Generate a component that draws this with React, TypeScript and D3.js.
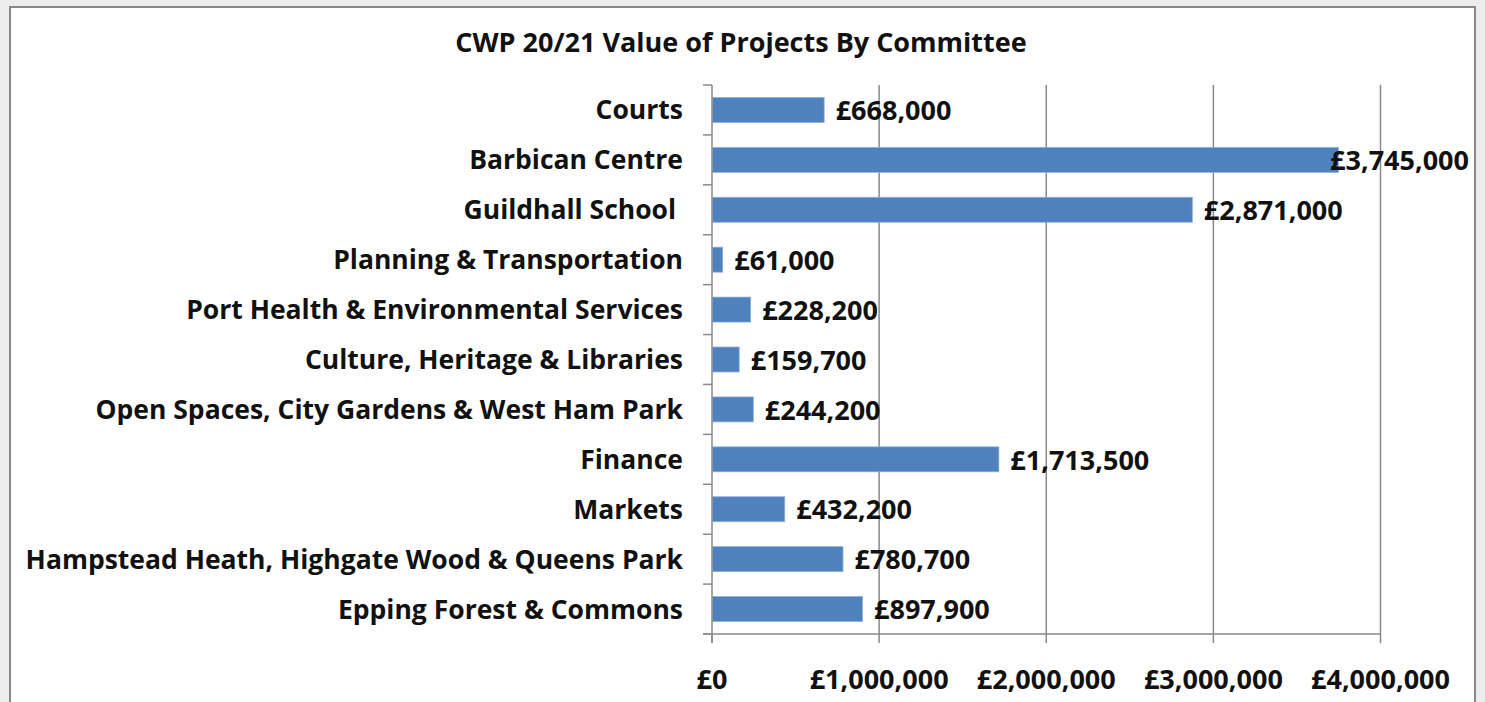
import React, { useRef, useEffect } from 'react';
import * as d3 from 'd3';

const committees = [
  'Courts',
  'Barbican Centre',
  'Guildhall School ',
  'Planning & Transportation',
  'Port Health & Environmental Services',
  'Culture, Heritage & Libraries',
  'Open Spaces, City Gardens & West Ham Park',
  'Finance',
  'Markets',
  'Hampstead Heath, Highgate Wood & Queens Park',
  'Epping Forest & Commons',
];
const values = [668000, 3745000, 2871000, 61000, 228200, 159700, 244200, 1713500, 432200, 780700, 897900];
const xTicks = [0, 1000000, 2000000, 3000000, 4000000];

const W = 1485;
const H = 702;

export default function App() {
  const svgRef = useRef<SVGSVGElement>(null);

  useEffect(() => {
    const svg = d3.select(svgRef.current);
    svg.selectAll('*').remove();

    const font = '"Open Sans", sans-serif';
    const margin = { top: 85, left: 712, right: 104.5, bottom: 68 };
    const innerW = W - margin.left - margin.right;
    const innerH = H - margin.top - margin.bottom;
    const labelLimit = 1469;

    // background and panel
    svg.append('rect').attr('width', W).attr('height', H).attr('fill', '#ededed');
    svg.append('rect')
      .attr('x', 10).attr('y', 7)
      .attr('width', 1465).attr('height', H + 10)
      .attr('fill', '#fff')
      .attr('stroke', '#888').attr('stroke-width', 2);

    svg.append('text')
      .attr('x', 741).attr('y', 52)
      .attr('text-anchor', 'middle')
      .style('font', `bold 27px ${font}`)
      .attr('fill', '#111')
      .text('CWP 20/21 Value of Projects By Committee');

    const x = d3.scaleLinear().domain([0, 4000000]).range([0, innerW]);
    const y = d3.scaleBand().domain(committees).range([0, innerH]).paddingInner(0.5).paddingOuter(0.25);
    const step = y.step();

    const g = svg.append('g').attr('transform', `translate(${margin.left},${margin.top})`);

    // vertical gridlines
    g.selectAll('.grid').data(xTicks.slice(1)).enter().append('line')
      .attr('x1', d => x(d)).attr('x2', d => x(d))
      .attr('y1', 0).attr('y2', innerH)
      .attr('stroke', '#8a8a8a').attr('stroke-width', 1.5);

    // bars
    g.selectAll('.bar').data(values).enter().append('rect')
      .attr('x', 0.5)
      .attr('y', (d, i) => y(committees[i]))
      .attr('width', d => x(d))
      .attr('height', y.bandwidth())
      .attr('fill', '#4f81bd')
      .attr('stroke', '#8eaedb').attr('stroke-width', 0.8);

    // y axis
    g.append('line').attr('x1', 0).attr('x2', 0).attr('y1', 0).attr('y2', innerH + 9)
      .attr('stroke', '#8a8a8a').attr('stroke-width', 1.5);
    g.selectAll('.ytick').data(d3.range(committees.length + 1)).enter().append('line')
      .attr('x1', -9).attr('x2', 0)
      .attr('y1', i => i * step).attr('y2', i => i * step)
      .attr('stroke', '#8a8a8a').attr('stroke-width', 1.5);

    // x axis
    g.append('line').attr('x1', -9).attr('x2', innerW).attr('y1', innerH).attr('y2', innerH)
      .attr('stroke', '#8a8a8a').attr('stroke-width', 1.5);
    g.selectAll('.xtick').data(xTicks).enter().append('line')
      .attr('x1', d => x(d)).attr('x2', d => x(d))
      .attr('y1', innerH).attr('y2', innerH + 9)
      .attr('stroke', '#8a8a8a').attr('stroke-width', 1.5);

    const fmt = (v: number) => '£' + d3.format(',')(v);

    g.selectAll('.xlabel').data(xTicks).enter().append('text')
      .attr('x', d => x(d)).attr('y', innerH + 55)
      .attr('text-anchor', 'middle')
      .style('font', `bold 27px ${font}`)
      .attr('fill', '#111')
      .text(d => fmt(d));

    // category labels
    g.selectAll('.ylabel').data(committees).enter().append('text')
      .attr('x', -29)
      .attr('y', d => (y(d) as number) + y.bandwidth() / 2)
      .attr('dy', '0.36em')
      .attr('text-anchor', 'end')
      .attr('xml:space', 'preserve')
      .style('white-space', 'pre')
      .style('font', `bold 26.5px ${font}`)
      .attr('fill', '#111')
      .text(d => d);

    // value labels
    g.selectAll('.vlabel').data(values).enter().append('text')
      .attr('y', (d, i) => (y(committees[i]) as number) + y.bandwidth() / 2)
      .attr('dy', '0.38em')
      .style('font', `bold 27px ${font}`)
      .attr('fill', '#111')
      .text(d => fmt(d))
      .each(function (d) {
        const el = this as SVGTextElement;
        const w = el.getComputedTextLength();
        const px = Math.min(x(d) + 12, labelLimit - margin.left - w);
        d3.select(el).attr('x', px);
      });
  }, []);

  return (
    <svg
      ref={svgRef}
      width={W}
      height={H}
      style={{ position: 'fixed', left: 0, top: 0, display: 'block' }}
    />
  );
}
